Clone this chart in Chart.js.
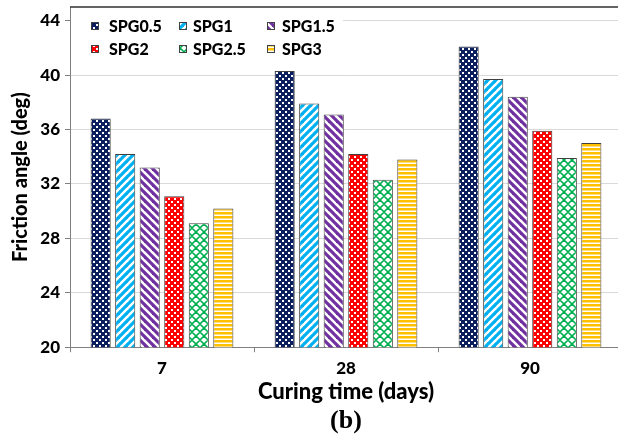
<!DOCTYPE html>
<html><head><meta charset="utf-8">
<script src="https://cdn.jsdelivr.net/npm/chart.js@4.4.0/dist/chart.umd.min.js"></script>
<style>
html,body{margin:0;padding:0;overflow:hidden;background:#fff;width:618px;height:436px}
#wrap{position:absolute;left:0;top:0;width:622px;height:436px}
canvas{display:block}
</style></head>
<body><div id="wrap"><canvas id="c" width="622" height="436" style="width:622px;height:436px"></canvas></div>
<script>
// ---- data ----
const CATEGORIES = ['7', '28', '90'];
const SERIES_NAMES = ['SPG0.5', 'SPG1', 'SPG1.5', 'SPG2', 'SPG2.5', 'SPG3'];
const SPG05 = [36.8, 40.3, 42.1];
const SPG1  = [34.2, 37.9, 39.7];
const SPG15 = [33.2, 37.1, 38.4];
const SPG2  = [31.1, 34.2, 35.9];
const SPG25 = [29.1, 32.3, 33.9];
const SPG3  = [30.2, 33.8, 35.0];
const Y_TICKS = [20, 24, 28, 32, 36, 40, 44];
const X_TITLE = 'Curing time (days)';
const Y_TITLE = 'Friction angle (deg)';
const CAPTION = '(b)';

// ---- patterns ----
function tile(w, h, draw) {
  const c = document.createElement('canvas');
  c.width = w; c.height = h;
  const x = c.getContext('2d');
  draw(x, w, h);
  return x.createPattern(c, 'repeat');
}
const P_NAVY = tile(6, 6, (x) => {
  x.fillStyle = '#0b1f5e'; x.fillRect(0, 0, 6, 6);
  x.fillStyle = '#ffffff';
  x.fillRect(0, 0, 2, 2); x.fillRect(3, 3, 2, 2);
});
const P_BLUE = tile(8, 8, (x) => {
  x.fillStyle = '#ffffff'; x.fillRect(0, 0, 8, 8);
  x.strokeStyle = '#00b0f0'; x.lineWidth = 3.2;
  [[-8, 8, 8, -8], [0, 8, 8, 0], [0, 16, 16, 0]].forEach(([a, b, c, d]) => { x.beginPath(); x.moveTo(a, b); x.lineTo(c, d); x.stroke(); });
});
const P_PURPLE = tile(8, 8, (x) => {
  x.fillStyle = '#ffffff'; x.fillRect(0, 0, 8, 8);
  x.strokeStyle = '#7030a0'; x.lineWidth = 3.2;
  [[0, 0, 8, 8], [-8, 0, 8, 16], [0, -8, 16, 8]].forEach(([a, b, c, d]) => { x.beginPath(); x.moveTo(a, b); x.lineTo(c, d); x.stroke(); });
});
const P_RED = tile(6, 6, (x) => {
  x.fillStyle = '#ff0000'; x.fillRect(0, 0, 6, 6);
  x.fillStyle = '#ffffff';
  x.fillRect(0, 0, 2, 2); x.fillRect(3, 3, 2, 2);
});
const P_GREEN = tile(8, 8, (x) => {
  x.fillStyle = '#ffffff'; x.fillRect(0, 0, 8, 8);
  x.strokeStyle = '#00b050'; x.lineWidth = 1.6;
  x.beginPath(); x.moveTo(0, 4); x.lineTo(4, 0); x.lineTo(8, 4); x.lineTo(4, 8); x.closePath(); x.stroke();
});
const P_GOLD = tile(4, 4, (x) => {
  x.fillStyle = '#ffffff'; x.fillRect(0, 0, 4, 4);
  x.fillStyle = '#ffc000'; x.fillRect(0, 0, 4, 2);
  x.fillStyle = '#ffdd77'; x.fillRect(0, 2, 4, 1);
});
const PATTERNS = [P_NAVY, P_BLUE, P_PURPLE, P_RED, P_GREEN, P_GOLD];
const SERIES = [SPG05, SPG1, SPG15, SPG2, SPG25, SPG3];

const FONT = 'Lato';
const W = 900;
const EDGE = '#404040';

const datasets = SERIES.map((vals, i) => ({
  label: SERIES_NAMES[i],
  data: vals,
  backgroundColor: PATTERNS[i],
  borderColor: EDGE,
  borderWidth: 1,
  borderSkipped: false,
  categoryPercentage: 0.8,
  barPercentage: 0.82
}));

const decor = {
  id: 'decor',
  afterDraw(chart) {
    const ctx = chart.ctx, a = chart.chartArea;
    ctx.save();
    // top frame line
    ctx.strokeStyle = '#303030'; ctx.lineWidth = 1.5;
    ctx.beginPath(); ctx.moveTo(a.left, a.top); ctx.lineTo(a.right + 2, a.top); ctx.stroke();
    // legend box inside plot
    ctx.fillStyle = '#ffffff';
    ctx.fillRect(a.left + 1, a.top + 2, 272, 54);
    const rowsY = [26, 49];
    const boxX = [91, 179, 267];
    const textX = [109, 193, 282];
    ctx.font = W + ' 16px ' + FONT;
    ctx.textBaseline = 'middle'; ctx.textAlign = 'left';
    SERIES_NAMES.forEach((name, i) => {
      const col = i % 3, row = Math.floor(i / 3);
      const y = rowsY[row];
      ctx.fillStyle = PATTERNS[i];
      ctx.fillRect(boxX[col], y - 4, 8, 8);
      ctx.strokeStyle = EDGE; ctx.lineWidth = 1;
      ctx.strokeRect(boxX[col] + 0.5, y - 3.5, 7, 7);
      ctx.fillStyle = '#000';
      ctx.fillText(name, textX[col], y + 1);
    });
    // caption
    ctx.font = 'bold 26px "Liberation Serif"';
    ctx.textAlign = 'center';
    ctx.fillStyle = '#000';
    ctx.fillText(CAPTION, (a.left + a.right) / 2, 421);
    ctx.restore();
  }
};

new Chart(document.getElementById('c'), {
  type: 'bar',
  data: { labels: CATEGORIES, datasets },
  options: {
    responsive: false,
    animation: false,
    devicePixelRatio: 1,
    layout: { padding: { left: 0, right: 0, top: 7, bottom: 31 } },
    plugins: { legend: { display: false }, tooltip: { enabled: false } },
    scales: {
      x: {
        grid: { display: true, drawOnChartArea: false, drawTicks: true, tickLength: 5, tickColor: '#7f7f7f', offset: true },
        border: { color: '#7f7f7f', width: 1 },
        ticks: { color: '#000', font: { family: FONT, weight: W, size: 17 }, padding: 6 },
        title: { display: true, text: X_TITLE, color: '#000', font: { family: FONT, weight: W, size: 22 }, padding: { top: -6, bottom: 0 } }
      },
      y: {
        min: 20, max: 45,
        afterBuildTicks: (ax) => { ax.ticks = Y_TICKS.map(v => ({ value: v })); },
        afterFit: (s) => { s.width = 70; s.paddingTop = 0; s.paddingBottom = 0; },
        grid: { color: '#d9d9d9', lineWidth: 1, tickLength: 5, tickColor: '#7f7f7f' },
        border: { color: '#7f7f7f', width: 1 },
        ticks: { color: '#000', font: { family: FONT, weight: W, size: 17 }, padding: 5 },
        title: { display: true, text: Y_TITLE, color: '#000', font: { family: FONT, weight: W, size: 20 }, padding: { top: 9, bottom: 0 } }
      }
    }
  },
  plugins: [decor]
});
</script>
</body></html>
